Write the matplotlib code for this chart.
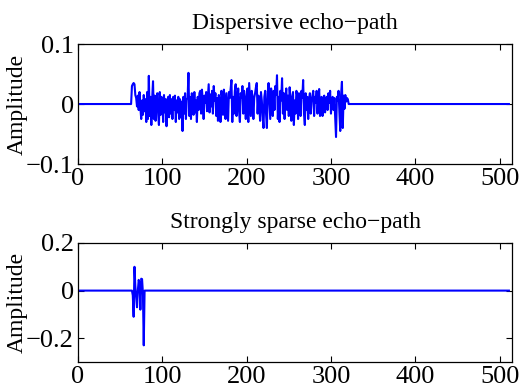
import numpy as np
import matplotlib
matplotlib.use("Agg")
import matplotlib.pyplot as plt

plt.rcParams['font.family'] = ['Liberation Serif', 'DejaVu Serif']
plt.rcParams['axes.unicode_minus'] = True

n_taps = 512

# dispersive echo path, nonzero taps start at index 64
disp_start = 64
disp_taps = [
    0.030, 0.033, 0.035, 0.033, 0.015, 0.010, -0.004, 0.014, -0.010, 0.020, -0.006, -0.025, 0.006, -0.018, 0.015, -0.012,
    0.008, -0.030, 0.020, -0.025, 0.047, -0.020, 0.012, -0.035, 0.010, 0.038, -0.025, 0.014, -0.028, 0.006, 0.018, -0.015,
    -0.035, 0.020, -0.018, 0.012, 0.004, -0.030, 0.015, -0.014, 0.008, -0.037, 0.006, 0.012, -0.022, 0.015, -0.016, 0.008,
    -0.025, 0.012, -0.010, 0.014, -0.030, 0.006, -0.014, 0.012, -0.025, 0.008, -0.022, 0.004, -0.045, 0.012, -0.016, 0.018,
    -0.025, 0.008, 0.010, 0.052, -0.020, 0.012, -0.025, 0.018, 0.004, -0.018, 0.020, -0.014, 0.006, -0.030, 0.012, -0.010,
    0.018, 0.022, -0.016, 0.024, 0.006, -0.025, 0.014, 0.002, 0.020, -0.012, 0.012, 0.033, -0.014, 0.016, -0.004, 0.022,
    -0.016, 0.030, 0.006, 0.018, -0.020, 0.010, -0.028, 0.015, 0.004, -0.030, 0.022, 0.012, -0.018, 0.024, 0.004, -0.025,
    0.018, -0.004, -0.028, 0.020, 0.010, 0.026, 0.040, -0.030, 0.012, -0.016, 0.022, 0.033, -0.020, 0.006, 0.026, -0.012,
    -0.030, 0.018, 0.010, 0.030, -0.016, 0.022, 0.002, -0.025, 0.014, 0.026, -0.030, 0.035, 0.006, -0.020, 0.022, 0.012,
    -0.025, 0.010, 0.018, 0.028, 0.035, -0.016, 0.014, -0.004, -0.028, 0.020, 0.006, -0.020, -0.040, 0.012, 0.022, -0.016,
    -0.040, 0.018, 0.035, 0.006, -0.025, 0.026, 0.012, -0.020, 0.022, -0.010, 0.030, 0.016, 0.048, -0.025, 0.012, -0.030,
    0.022, 0.006, 0.043, -0.016, 0.018, -0.025, 0.010, 0.026, -0.010, 0.014, -0.020, 0.028, 0.004, -0.028, 0.012, 0.020,
    -0.035, 0.006, -0.016, 0.022, 0.014, -0.025, 0.018, 0.004, -0.020, 0.022, 0.010, 0.040, -0.016, -0.035, 0.018, -0.010,
    0.012, -0.025, 0.006, 0.018, -0.016, 0.006, 0.014, 0.022, -0.020, 0.012, 0.002, 0.022, -0.016, 0.006, 0.025, -0.020,
    0.010, 0.012, -0.020, 0.006, 0.014, -0.014, 0.004, 0.012, -0.010, 0.018, 0.002, 0.022, -0.016, 0.006, 0.012, -0.010,
    0.010, -0.022, -0.055, 0.012, 0.006, 0.022, -0.014, -0.045, 0.016, 0.037, -0.040, 0.014, -0.008, 0.015, 0.004, 0.010,
    0.008, 0.0,
]

# strongly sparse echo path
sparse_start = 64
sparse_taps = [0, -0.02, -0.11, 0.10, 0.02, -0.03, -0.07, 0.0, 0.045, 0.03, -0.08, 0.05, 0.048, -0.01, -0.23, 0.0, 0.0]

titles = ["Dispersive echo\u2212path", "Strongly sparse echo\u2212path"]
ylims = [(-0.1, 0.1), (-0.3, 0.2)]
yticks = [[-0.1, 0, 0.1], [-0.2, 0, 0.2]]
xticks = [0, 100, 200, 300, 400, 500]


def build(start, taps):
    h = np.zeros(n_taps)
    h[start:start + len(taps)] = taps
    return h


paths = [build(disp_start, disp_taps), build(sparse_start, sparse_taps)]
n = np.arange(n_taps)

fig = plt.figure(figsize=(5.29, 3.87), dpi=100)
rects = [[0.1474, 0.5762, 0.821, 0.310], [0.1474, 0.0646, 0.821, 0.3075]]

for i in range(2):
    ax = fig.add_axes(rects[i])
    ax.plot(n, paths[i], color=(0, 0, 1), lw=1.5)
    ax.set_xlim(0, 515)
    ax.set_ylim(*ylims[i])
    ax.set_xticks(xticks)
    ax.set_yticks(yticks[i])
    ax.set_yticklabels([f"{v:g}".replace("-", "\u2212") for v in yticks[i]])
    ax.tick_params(direction='in', length=4, width=0.8, top=True, right=True, labelsize=19)
    ax.tick_params(axis='y', pad=3)
    ax.tick_params(axis='x', pad=3)
    for s in ax.spines.values():
        s.set_linewidth(0.9)
    ax.set_title(titles[i], fontsize=17, pad=11)
    ax.set_ylabel("Amplitude", fontsize=17)
    ax.yaxis.set_label_coords(-0.115, 0.5)

fig.savefig("out.png", dpi=100)
